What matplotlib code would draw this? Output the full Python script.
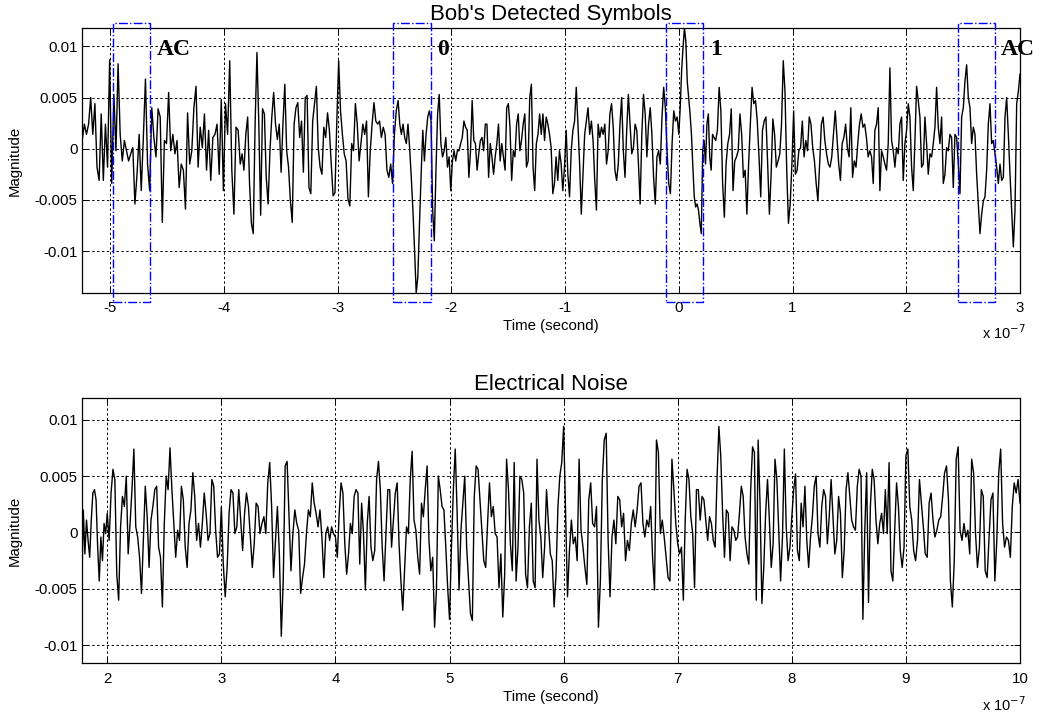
import numpy as np
import matplotlib
matplotlib.use('Agg')
import matplotlib.pyplot as plt
from matplotlib.patches import Rectangle

plt.rcParams['font.family'] = ['Liberation Sans', 'DejaVu Sans']

# time in units of 1e-7 s, magnitude in units of 1e-3
# top trace, read piece by piece between these times
top_edges = [-5.245, -3.856, -2.468, -1.079, 0.0, 0.309, 1.680, 3.0]
top_seg1 = [0.9, 2.4, 1.4, 2.4, 5.0, 1.4, 4.4, -1.8, -3.1, 3.4, -3.1, 2.4, -1.8, 8.7, -3.4, 5.3,
            -0.2, 8.3, 1.4, -1.2, 0.8, -0.2, -1.2, -0.5, 0.1, -5.4, -2.5, 1.4, -4.1, 1.1, 6.8,
            -1.5, -4.1, 4.0, 1.1, -0.8, 3.9, 3.1, -7.2, 0.8, 0.5, 5.5, -0.2, 1.4, -0.5, 0.8,
            -3.8, -1.5, -2.1, -5.9, 3.5, -1.5, -0.2, 4.0, 6.1, -1.8, 2.1, 0.1, 3.4, -2.1, 1.8,
            -3.1, 1.1, 1.4, 2.4, -2.5, 4.8, -4.1, 4.4, 1.4, 8.6, -2.1, -6.4, 2.1, 1.8]
top_seg2 = [-1.5, -0.5, -2.1, 1.4, 3.1, -3.4, -7.3, -8.3, 2.4, 9.4, 2.4, -6.5, 3.9, 3.4, -2.8,
            -5.4, -0.2, 3.1, 5.5, 2.4, 0.9, 2.4, -2.3, 2.4, 6.3, -0.2, -1.8, -5.1, -7.2, 2.4,
            4.0, 4.5, 1.1, 2.7, -2.3, 5.0, 5.2, -3.8, -4.4, 2.7, 4.4, 6.1, 0.1, -1.8, -2.5,
            2.1, 1.1, 3.5, 1.8, -1.5, -4.6, -4.3, 2.7, 8.6, 3.7, 1.4, -0.5, -1.2, -4.9, -5.6,
            0.5, -0.2, 4.4, 2.4, -1.2, 0.5, 2.4, 1.4, 2.7, -4.7, -0.2, 2.4, 4.5, 2.7, 2.4, 2.7,
            1.1, 2.1, 1.4, -2.1, -2.8, -1.5, -3.4, 1.4, 3.7]
top_seg3 = [4.7, 2.4, 1.4, 2.4, 1.1, 0.5, 2.4, 0.1, -2.8, -6.0, -9.9, -14.1, -12.5, -7.3, -2.5,
            1.8, -1.2, 1.4, 3.1, 3.7, 2.7, -6.0, -9.0, -2.1, 3.4, 5.3, 0.5, -0.8, -0.2, 1.1,
            -1.8, -0.8, -4.1, -1.2, -0.2, -1.2, -0.2, -0.2, 0.5, 1.1, 2.7, 2.1, 1.8, -2.8, -0.2,
            4.7, 0.8, 0.5, -2.1, -0.5, 0.8, 1.1, -0.2, 2.4, 2.4, -2.8, 0.5, -0.8, -2.5, -0.8,
            0.5, 2.4, -1.2, 0.5, -0.8, -2.1, 4.0, 4.4, 2.1, -3.1, -0.2, -0.8, 2.4, 3.4, -0.2,
            0.8, 2.4, 3.4, -1.8, -1.2, 5.0, 6.3, -1.8, -4.1, 0.5, 1.4, 3.4, 1.4, 3.4, 0.8, 3.1,
            2.4, 1.4, 0.1, -4.4, -3.4]
top_seg4 = [-0.8, -3.1, -0.2, -1.5, -4.1, -1.8, 1.8, -2.5, -4.7, -0.2, 1.8, 2.7, 6.0, 2.4, -1.5,
            -6.4, -2.5, 1.4, 2.7, 4.0, 1.4, 2.7, 0.8, -3.1, -6.0, 2.4, 1.1, 2.1, 1.4, 2.4, -1.5,
            -0.2, 3.4, 4.4, 2.1, -2.1, -3.1, -1.5, 2.4, 5.0, -0.2, -2.8, 1.8, 5.3, 2.4, -0.5,
            0.1, 2.4, 1.8, -1.5, -5.4, 1.4, 5.3, 3.4, -0.8, 2.4, 4.0, 1.4, -2.8, -5.4, -0.8,
            -0.2, -1.5, 3.1, 6.0, 4.0, -0.2, -3.4, -4.4, 0.5, 3.7, 2.7, 3.1]
top_seg5 = [1.4, 4.0, 7.6, 9.9, 11.8, 10.5, 6.6, 5.0, 3.4, 1.4, -1.8, -4.7, -5.7, -5.4, -6.0,
            -7.3, -8.3, -0.2, 0.8, -1.5, 2.4, 3.4, -0.8, -2.1, 1.4]
top_seg6 = [1.1, 0.8, 1.8, 6.0, 3.7, -3.4, -6.7, -1.5, 0.5, 1.4, 3.9, -4.1, -1.2, -0.8, -0.2,
            3.4, 1.4, -2.8, -2.1, -6.4, -1.5, 2.4, 6.0, 4.4, 4.7, 2.7, -0.8, -4.7, 1.8, 2.7,
            3.1, -1.5, -6.4, -2.5, 2.9, 1.4, -1.8, -1.2, -0.5, 2.4, 8.6, 5.6, -2.1, -7.3, -5.4,
            -1.5, 3.7, -2.5, -2.1, -0.2, 0.1, 2.7, -0.8, 0.8, -0.2, 3.1, 2.4, 0.1, -1.2, -3.4,
            -5.1, -1.5, 2.4, 3.1, 0.8, -0.5, -1.5, -1.8, -0.8, 1.4, 3.7, 1.1, -1.5, -3.1, 0.5,
            1.1, 2.4, 0.1, -0.8, 4.0, -2.8, -1.2, -1.8, 0.5, 2.4, 3.4, 2.1, 2.4, 1.1, -0.8]
top_seg7 = [-0.2, -0.8, -3.4, 1.8, 2.4, 4.0, -4.1, -0.2, -0.8, -1.5, -2.1, 0.5, 7.9, 0.8, -0.2,
            -1.8, 0.1, -0.5, 2.4, 3.1, -3.1, 0.5, 1.8, 4.4, 3.1, -1.8, -4.1, 0.8, 6.1, 4.7, 3.1,
            -1.8, -1.5, 3.1, 0.5, -2.5, -0.5, -0.8, 0.5, 2.1, 6.0, 2.1, 0.5, 3.1, -3.4, -2.5,
            0.1, -0.2, 1.4, 1.1, -3.8, 1.4, 1.1, -1.5, -4.4, 3.1, 4.0, 6.6, 8.2, 5.0, 4.0, 0.5,
            2.1, 1.4, -2.5, -5.4, -8.3, -6.4, -5.1, -4.7, -2.1, 2.4, 4.4, 0.5, 0.8, -0.5, -1.8,
            -3.4, -1.5, -3.1, -2.8, 3.1, 5.0, 1.4, -2.5, -6.0, -9.6, -6.0, 4.4, 5.6, 7.3]
top_segs = [top_seg1, top_seg2, top_seg3, top_seg4, top_seg5, top_seg6, top_seg7]

# bottom trace, pieces between grid times
bot_edges = [1.776, 2, 3, 4, 5, 6, 7, 8, 9, 10]
bot_seg0 = [-5.7, 2.0, -1.9, 1.1, -0.7, -2.2, 1.1, 3.5, 3.8, 2.9, -1.3, -4.3, -0.4, -2.5, 0.8, -0.1]
bot_seg1 = [1.7, -0.7, 3.5, 5.6, 4.7, -3.7, -6.0, 0.5, 3.2, 2.3, 5.0, -1.9, 0.8, 3.8, 7.4, 0.5,
            -0.4, -2.2, -5.4, -0.7, 4.1, 1.4, -3.1, 1.1, 2.3, 3.8, 4.1, -1.3, -2.2, -6.6, 0.8,
            5.0, 3.8, 7.5, 3.8, 0.8, -2.2, 0.2, -0.7, 4.1, 2.9, -1.3, -3.1, 0.8, 2.0, 5.3, 3.2,
            -0.7, 0.8, -1.3, 0.8, 3.5, 1.7, -0.7, -0.1, 4.7, 4.1, 0.2, -2.2, -1.9]
bot_seg2 = [2.3, -2.8, -5.7, -3.1, 1.7, 3.8, 3.5, -0.1, 0.5, 3.8, 1.1, -1.6, 1.7, 3.5, 2.3, -0.4,
            -3.1, -1.0, 2.6, 2.3, -0.1, 0.8, 1.4, -0.1, 4.4, 6.2, 2.3, -4.0, -0.7, 2.3, -1.9,
            -9.2, -4.3, 5.9, 6.3, 1.4, -3.4, -0.1, 2.0, 0.8, 0.2, -5.4, -4.0, -2.8, -0.1, 2.0,
            1.4, 4.4, 2.6, 1.7, 0.5, 2.0, -0.4, -4.0, -0.1, 0.5, -0.7, 0.5, -0.1]
bot_seg3 = [-0.4, -2.2, 1.7, 4.4, 3.5, -1.0, -3.7, -1.9, 0.8, -0.1, 3.2, 3.8, 3.5, -2.8, 2.6, -0.1,
            -5.1, 0.8, 3.2, -1.3, -2.5, -1.6, 4.7, 6.3, 3.8, -1.3, -4.3, -0.1, 3.8, 3.8, -1.3,
            1.1, 3.5, 4.4, -1.0, -4.3, -6.9, -3.1, 0.5, -0.1, 4.7, 7.2, 1.1, 0.2, -2.2, -3.7,
            2.6, 1.4, 3.8, 5.9, -0.7, -3.4, -2.2, -8.4, -5.1, 5.0, 3.8, 2.3, 2.0, -1.3, -4.9]
bot_seg4 = [-7.7, -1.3, 3.8, 7.4, 1.7, -5.1, 0.2, 2.6, 5.0, -1.3, -4.3, -7.2, -7.8, 3.2, 5.9, 5.6,
            2.9, 0.2, -2.5, -3.1, 0.8, 4.4, 1.4, 2.3, -0.1, -0.4, -4.9, -1.9, -7.5, -3.7, 6.5,
            3.8, -1.0, -3.4, 6.2, -4.3, -1.3, 5.0, 4.7, 3.5, -3.7, -4.9, 0.5, 2.6, -4.3, -4.9,
            6.5, 1.1, -0.4, -4.0, -1.3, 3.8, 0.8, -1.9, -2.5, -6.6, -3.7, 2.3, 5.0, 6.2]
bot_seg5 = [9.4, 1.7, -5.7, -1.6, 1.1, -1.0, -0.4, -2.5, 6.5, 0.2, -1.3, -3.1, -4.6, 2.9, 4.4, 0.8,
            0.5, 2.3, -8.4, -4.3, 4.7, 8.2, 8.8, -0.7, -5.7, -0.4, 1.1, -1.0, 3.2, 2.9, 0.5, 1.7,
            -2.5, -0.7, -1.6, 0.8, 2.0, 0.5, 2.0, 4.1, 4.4, 0.8, -0.4, 1.1, 0.5, 2.3, -2.2, -5.1,
            8.2, 7.1, -0.1, 1.1, -0.4, -2.2, -4.0, -4.3, 6.5, 3.8, 0.8]
bot_seg6 = [-1.0, -1.9, -1.3, -6.0, 1.1, 5.6, 4.7, 1.4, -0.1, -4.9, 3.8, 3.8, 1.1, 3.2, 2.9, 1.1,
            -0.7, 1.4, 0.8, -0.7, -1.3, 4.7, 9.4, 6.8, 1.7, -2.2, 2.0, 1.7, -2.5, 0.5, 0.2, -0.7,
            -0.4, 1.7, 4.1, 3.2, -0.4, -1.9, -2.8, 3.8, 7.6, 7.1, -6.0, 8.2, 2.6, -6.3, -3.1,
            1.7, 4.7, 1.1, -3.1, -1.0, 6.5, 4.7, 0.2, -4.3, -0.4, 7.4, 0.5, -2.5, -1.3]
bot_seg7 = [1.4, 3.8, 5.2, -1.6, -2.5, 2.6, 0.5, 4.1, -0.7, -3.1, -0.4, 1.4, 4.1, 5.0, -0.1, -1.3,
            2.3, 3.8, 3.2, -1.0, 1.4, 4.7, 1.4, -1.9, -0.7, 3.2, 1.7, -4.0, -1.6, 3.8, 5.3, 3.2,
            1.1, 0.5, 0.2, 4.1, 5.6, 5.0, -7.7, 0.2, 5.3, -6.2, 2.3, 5.6, 4.7, 1.1, -1.0, 0.8,
            1.7, -0.1, 3.8, -0.1, 6.2, -3.4, -4.3, 0.2, 4.4, 2.3, -1.6, -3.1, -1.3]
bot_seg8 = [6.8, 7.4, 2.3, 1.1, -1.6, -2.5, -0.7, 4.7, 2.6, 0.5, -1.9, -2.2, 2.6, 3.5, 1.1, -0.4,
            0.2, 1.1, 1.4, 3.2, 5.3, 5.9, 2.9, -4.3, -6.6, -2.5, 6.5, 7.6, 0.2, -0.7, 0.8, -0.4,
            0.2, -1.9, 6.5, 5.3, -0.1, -3.1, -1.3, 3.8, 3.2, -3.4, -4.0, -0.4, 2.9, 3.5, -4.3,
            -0.7, 5.3, 7.4, 0.8, -1.3, -0.4, -0.7, -2.2, 2.3, 4.4, 3.5, 4.7, 2.6]
bot_segs = [bot_seg0, bot_seg1, bot_seg2, bot_seg3, bot_seg4, bot_seg5, bot_seg6, bot_seg7, bot_seg8]

# marked symbol windows on the top trace (time range) and their labels
box_ranges = [(-4.976, -4.648), (-2.514, -2.180), (-0.112, 0.210), (2.451, 2.779)]
box_labels = ['AC', '0', '1', 'AC']
label_t = [-4.587, -2.127, 0.274, 2.83]

top_xticks = [-5, -4, -3, -2, -1, 0, 1, 2, 3]
bot_xticks = [2, 3, 4, 5, 6, 7, 8, 9, 10]
yticks = [-0.01, -0.005, 0, 0.005, 0.01]
ytick_text = ['-0.01', '-0.005', '0', '0.005', '0.01']


def join(edges, segs):
    tt, mm = [], []
    last = len(segs) - 1
    for k, s in enumerate(segs):
        tt.append(np.linspace(edges[k], edges[k + 1], len(s), endpoint=(k == last)))
        mm.append(np.array(s) * 1e-3)
    return np.concatenate(tt), np.concatenate(mm)


def style(ax, xticks):
    ax.grid(True, color='black', linestyle=(0, (2.5, 2.5)), linewidth=0.7)
    ax.set_axisbelow(True)
    ax.tick_params(direction='in', top=True, right=True, length=4, width=0.7,
                   labelsize=10.8, colors='black')
    ax.tick_params(axis='x', pad=6)
    ax.tick_params(axis='y', pad=3)
    ax.set_xticks(xticks)
    ax.set_xticklabels([str(v) for v in xticks])
    ax.set_yticks(yticks)
    ax.set_yticklabels(ytick_text)
    for s in ax.spines.values():
        s.set_linewidth(0.9)
    ax.set_ylabel('Magnitude', fontsize=10.8)
    ax.yaxis.set_label_coords(-0.0636, 0.5)
    ax.set_xlabel('Time (second)', fontsize=10.8)
    ax.xaxis.set_label_coords(0.5, -0.10)


t1, m1 = join(top_edges, top_segs)
t2, m2 = join(bot_edges, bot_segs)

fig = plt.figure(figsize=(10.42, 7.17), dpi=100)
ax1 = fig.add_axes([0.0784, 0.5914, 0.9005, 0.3696])
ax2 = fig.add_axes([0.0784, 0.0749, 0.9005, 0.3696])

ax1.plot(t1, m1, color='black', linewidth=1.0)
ax1.set_xlim(-5.25, 3.0)
ax1.set_ylim(-0.0141, 0.0118)
style(ax1, top_xticks)
ax1.set_title("Bob's Detected Symbols", fontsize=16, pad=6)

for (a, b), lab, lt in zip(box_ranges, box_labels, label_t):
    ax1.add_patch(Rectangle((a, -0.0150), b - a, 0.0273, fill=False, edgecolor='blue',
                            linestyle='-.', linewidth=1.0, clip_on=False, zorder=5))
    ax1.text(lt, 0.0097, lab, fontsize=17, fontweight='bold', va='center', ha='left',
             family=['Liberation Serif', 'DejaVu Serif'], clip_on=False)

ax2.plot(t2, m2, color='black', linewidth=1.0)
ax2.set_xlim(1.776, 10.0)
ax2.set_ylim(-0.0116, 0.0119)
style(ax2, bot_xticks)
ax2.set_title('Electrical Noise', fontsize=16, pad=6)

fig.text(982 / 1042, 1 - 333 / 717, r'x 10$^{-7}$', fontsize=10.5, va='center', ha='left')
fig.text(982 / 1042, 1 - 705 / 717, r'x 10$^{-7}$', fontsize=10.5, va='center', ha='left')

fig.savefig('out.png', dpi=100)
